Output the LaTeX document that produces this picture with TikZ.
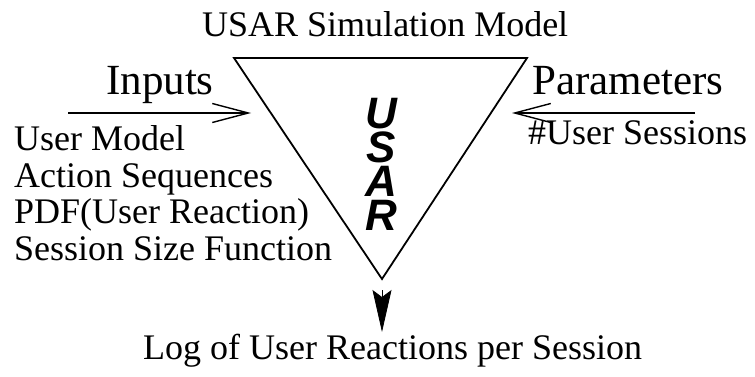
\documentclass[tikz,border=0pt]{standalone}
\usepackage{fontspec}
\setmainfont{Liberation Serif}
\newfontfamily\usarfont[BoldItalicFont={Liberation Sans Bold Italic}]{Liberation Sans}
\usetikzlibrary{arrows.meta}
\begin{document}
\begin{tikzpicture}[x=1pt,y=-1pt,
  txt/.style={inner sep=0pt,anchor=base west,font=\fontsize{36}{36}\selectfont},
  bigtxt/.style={inner sep=0pt,anchor=base west,font=\fontsize{43}{43}\selectfont},
  usar/.style={inner sep=0pt,align=center,font=\usarfont\bfseries\itshape\fontsize{44}{34}\selectfont},
  tri/.style={draw,line width=1.8pt,line join=miter},
  inarrow/.style={draw,line width=1.4pt,-{Straight Barb[length=36pt,width=19pt,line width=1.4pt]}},
  outarrow/.style={draw,line width=0.8pt,-{Stealth[length=42pt,width=19pt,inset=7pt]}}]
\useasboundingbox (0,0) rectangle (755,377);
% triangle
\coordinate (tl) at (234,58);
\coordinate (tr) at (527,58);
\coordinate (bt) at (382,279);
\draw[tri] (tl) -- (tr) -- (bt) -- cycle;
% title
\node[txt] (title) at (202,37) {USAR Simulation Model};
% USAR letters
\node[usar,anchor=base] (usar) at (381,230) {U\\S\\A\\R};
% inputs
\node[bigtxt] (inputs) at (106,95) {Inputs};
\node[txt] (in1) at (14,150) {User Model};
\node[txt] (in2) at (14,187) {Action Sequences};
\node[txt] (in3) at (14,223) {PDF(User Reaction)};
\node[txt] (in4) at (14,260) {Session Size Function};
\coordinate (inS) at (68,113);
\coordinate (inE) at (251,113);
\draw[inarrow] (inS) -- (inE);
% parameters
\node[bigtxt] (params) at (532,95) {Parameters};
\node[txt] (p1) at (528,145) {\#User Sessions};
\coordinate (pS) at (695,113);
\coordinate (pE) at (512,113);
\draw[inarrow] (pS) -- (pE);
% output
\coordinate (oS) at (382,290);
\coordinate (oE) at (382,332);
\draw[outarrow] (oS) -- (oE);
\node[txt] (out) at (143,359) {Log of User Reactions per Session};
\end{tikzpicture}
\end{document}
